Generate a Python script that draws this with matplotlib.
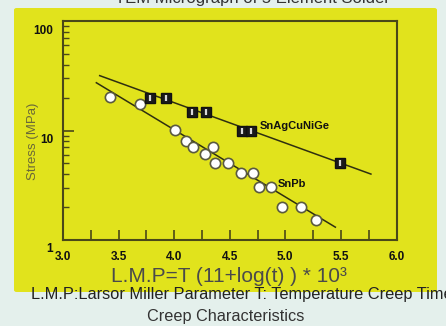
import matplotlib
matplotlib.use("Agg")
import matplotlib.pyplot as plt
import matplotlib.transforms as mtransforms
from matplotlib.patches import FancyBboxPatch
from matplotlib.ticker import MultipleLocator, LogLocator, FixedLocator, FixedFormatter, NullFormatter

plt.rcParams['font.family'] = ['Liberation Sans', 'DejaVu Sans']

# Data
snag_x = [3.78, 3.93, 4.16, 4.29, 4.61, 4.69, 5.49]
snag_y = [19.9, 19.9, 14.85, 14.85, 9.9, 9.9, 5.1]
snag_fit_x = [3.33, 5.77]
snag_fit_y = [31.7, 4.0]

snpb_x = [3.42, 3.69, 4.01, 4.11, 4.17, 4.28, 4.35, 4.37, 4.48, 4.60, 4.71, 4.76, 4.87, 4.97, 5.14, 5.28]
snpb_y = [20.3, 17.3, 10.2, 8.07, 7.02, 6.1, 7.14, 5.08, 5.08, 4.06, 4.06, 3.03, 3.03, 2.02, 2.02, 1.52]
snpb_fit_x = [3.30, 5.45]
snpb_fit_y = [27.3, 1.31]

xticks = [3.0, 3.5, 4.0, 4.5, 5.0, 5.5, 6.0]
xtick_labels = ['3.0', '3.5', '4.0', '4.5', '5.0', '5.5', '6.0']
yticks = [1, 10, 100]
ytick_labels = ['1', '10', '100']

W, H = 446, 326
fig = plt.figure(figsize=(W / 100, H / 100), dpi=100)
fig.patch.set_facecolor('#e4f0ec')

# yellow panel
panel = FancyBboxPatch((14 / W, (H - 292) / H), (437 - 14) / W, (292 - 8) / H,
                       boxstyle="round,pad=0,rounding_size=0.006",
                       transform=fig.transFigure, facecolor='#e1e31c',
                       edgecolor='none', zorder=-5)
fig.patches.append(panel)

ax = fig.add_axes([63 / W, (H - 240) / H, (396.5 - 63) / W, (240 - 21) / H])
ax.set_zorder(2)
ax.set_facecolor('none')
ax.set_yscale('log')
ax.set_xlim(3.0, 6.0)
ax.set_ylim(1, 100)

spine_c = '#4a4818'
for s in ax.spines.values():
    s.set_color(spine_c)
    s.set_linewidth(1.5)

ax.plot(snag_fit_x, snag_fit_y, color='#2f2f10', lw=1.1, zorder=2)
ax.plot(snpb_fit_x, snpb_fit_y, color='#2f2f10', lw=1.1, zorder=2)

ax.plot(snpb_x, snpb_y, 'o', ms=7.4, mfc='white', mec='#5a5a40', mew=1.2, ls='none', zorder=3)
ax.plot(snag_x, snag_y, 's', ms=7.2, mfc='#1a1a1a', mec='#111111', mew=1.0, ls='none', zorder=3)
ax.plot(snag_x, snag_y, '|', ms=5, mec='#d8d8d8', mew=1.6, ls='none', zorder=4)

ax.text(4.77, 11.1, 'SnAgCuNiGe', fontsize=8, fontweight='bold', color='#111111', va='center', ha='left')
ax.text(4.935, 3.23, 'SnPb', fontsize=8, fontweight='bold', color='#111111', va='center', ha='left')

ax.xaxis.set_major_locator(FixedLocator(xticks))
ax.xaxis.set_major_formatter(FixedFormatter(xtick_labels))
ax.xaxis.set_minor_locator(MultipleLocator(0.25))
ax.yaxis.set_major_locator(FixedLocator(yticks))
ax.yaxis.set_major_formatter(FixedFormatter(ytick_labels))
ax.yaxis.set_minor_locator(LogLocator(base=10, subs=range(2, 10)))
ax.yaxis.set_minor_formatter(NullFormatter())

ax.tick_params(axis='x', which='both', direction='in', length=7, width=1.2, color=spine_c,
               labelsize=8.5, pad=8, top=False)
ax.tick_params(axis='y', which='major', direction='in', length=8, width=1.2, color=spine_c,
               labelsize=8.5, pad=7, right=False)
ax.tick_params(axis='y', which='minor', direction='in', length=4, width=1.0, color=spine_c, right=False)
for lab in ax.get_xticklabels() + ax.get_yticklabels():
    lab.set_fontweight('bold')
    lab.set_color('#111111')

off = mtransforms.ScaledTranslation(0, -8 / 100, fig.dpi_scale_trans)
for lab in ax.get_yticklabels():
    lab.set_transform(lab.get_transform() + off)

fig.text(33 / W, 1 - 141 / H, 'Stress (MPa)', rotation=90, fontsize=9.5, color='#6a6838',
         ha='center', va='center')

fig.text(229 / W, 1 - 277 / H, 'L.M.P=T (11+log(t) ) * 10³', fontsize=15, color='#4a4a4a',
         ha='center', va='center')
fig.text(31 / W, 1 - 294 / H, 'L.M.P:Larsor Miller Parameter T: Temperature Creep Time',
         fontsize=11.8, color='#222222', ha='left', va='center')
fig.text(226 / W, 1 - 317 / H, 'Creep Characteristics', fontsize=11.7, color='#333333',
         ha='center', va='center')
fig.text(252 / W, 1 - 3 / H, 'TEM Micrograph of 5 Element Solder', fontsize=12, color='#333333',
         ha='center', va='baseline')

fig.savefig('out.png', dpi=100, facecolor=fig.get_facecolor())
